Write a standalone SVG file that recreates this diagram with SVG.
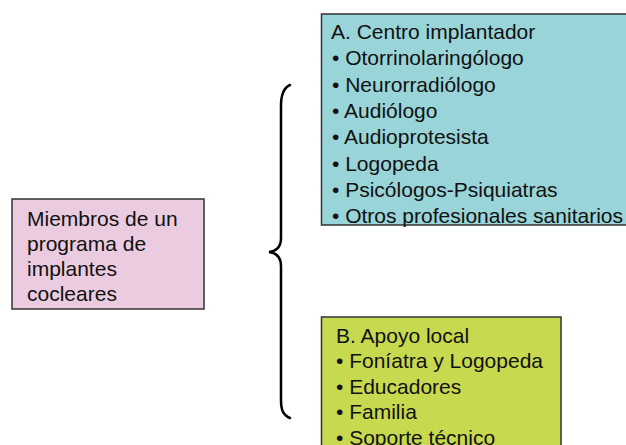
<svg xmlns="http://www.w3.org/2000/svg" width="626" height="445" viewBox="0 0 626 445">
<style>
.box{stroke:#333;stroke-width:1.5}
.t{font-family:"Liberation Sans",Arial,sans-serif;font-size:21px;fill:#111}
.brace{fill:none;stroke:#000;stroke-width:2.5;stroke-linecap:round}
</style>
<rect width="626" height="445" fill="#fff"/>
<g id="miembros">
<rect class="box" x="12" y="199" width="192" height="110" fill="#EACBE0"/>
<text class="t" x="27" y="226">Miembros de un</text>
<text class="t" x="27" y="251">programa de</text>
<text class="t" x="27" y="276">implantes</text>
<text class="t" x="27" y="301">cocleares</text>
</g>
<g id="connectors">
<path class="brace" d="M290,85 C283,88 281,95 281,106 L281,238 C281,246 277,251 269,252 C277,253 281,258 281,266 L281,400 C281,410 283,415 290,418"/>
</g>
<g id="centro">
<rect class="box" x="321.5" y="14" width="320" height="211" fill="#98D4D8"/>
<text class="t" x="331" y="39">A. Centro implantador</text>
<text class="t" x="332" y="65">• Otorrinolaringólogo</text>
<text class="t" x="332" y="91.5">• Neurorradiólogo</text>
<text class="t" x="332" y="118">• Audiólogo</text>
<text class="t" x="332" y="144">• Audioprotesista</text>
<text class="t" x="332" y="170.5">• Logopeda</text>
<text class="t" x="332" y="197">• Psicólogos-Psiquiatras</text>
<text class="t" x="332" y="223">• Otros profesionales sanitarios</text>
</g>
<g id="apoyo">
<rect class="box" x="321.5" y="317" width="239.5" height="140" fill="#C7D94F"/>
<text class="t" x="336" y="342.5">B. Apoyo local</text>
<text class="t" x="336" y="368">• Foníatra y Logopeda</text>
<text class="t" x="336" y="393.5">• Educadores</text>
<text class="t" x="336" y="419">• Familia</text>
<text class="t" x="336" y="444.5">• Soporte técnico</text>
</g>
</svg>
